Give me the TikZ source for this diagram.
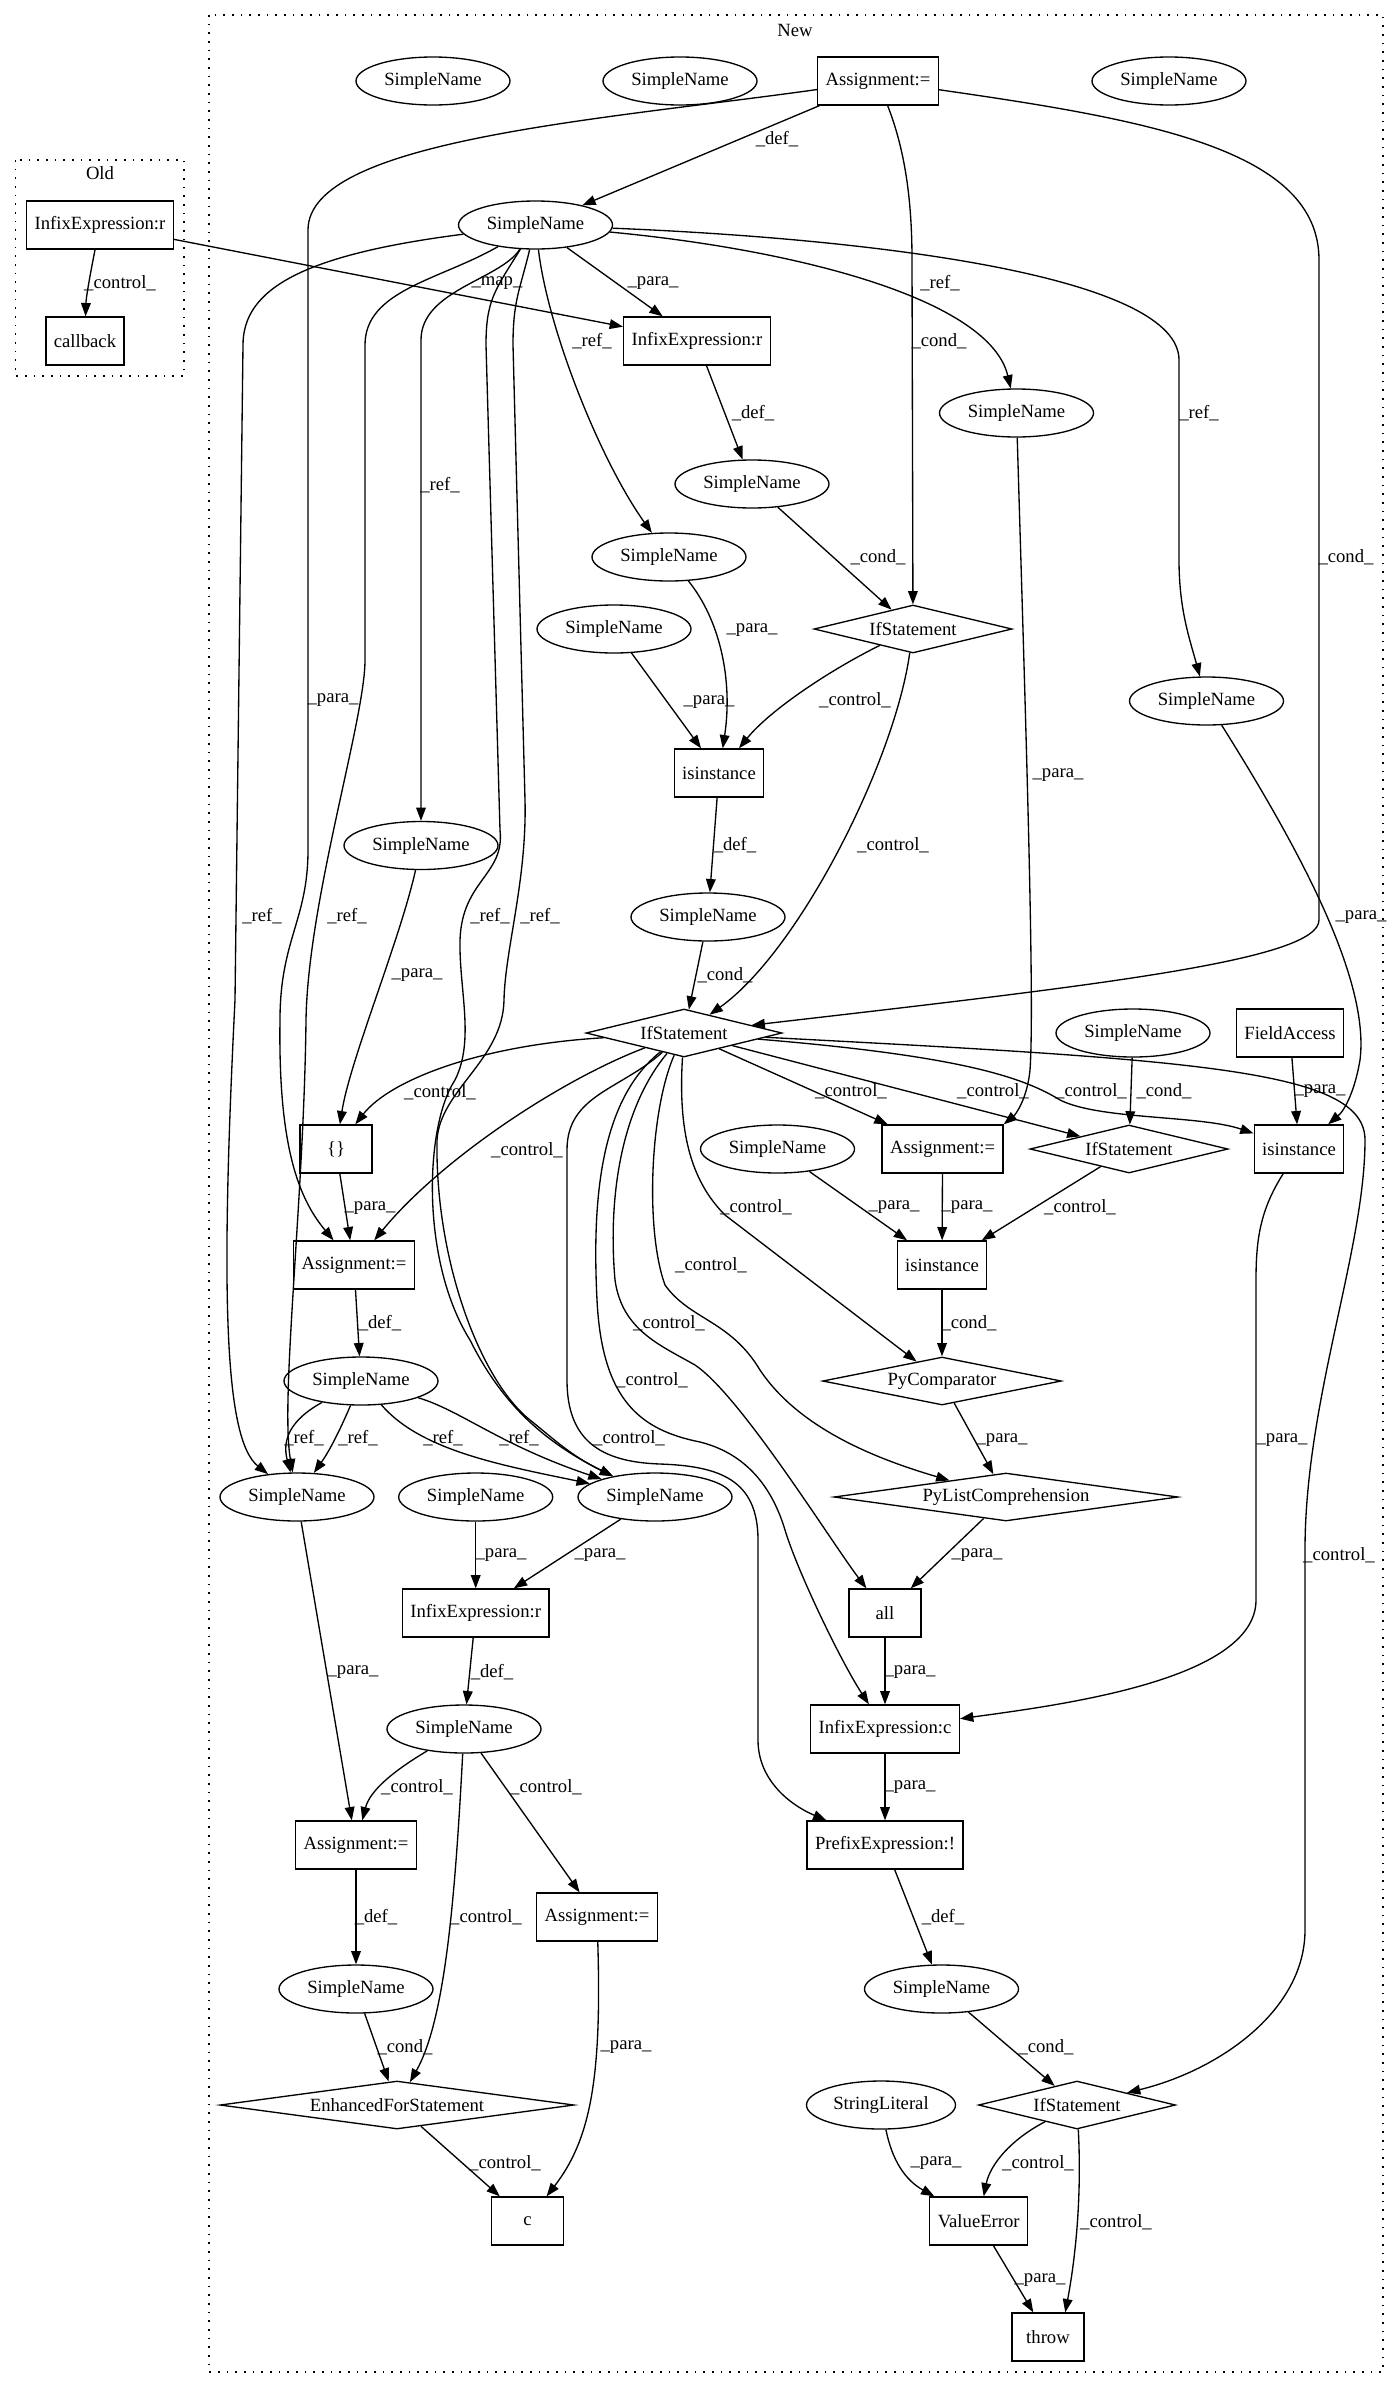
\documentclass[tikz,border=0pt]{standalone}
\usepackage{fontspec}
\setmainfont{Liberation Serif}
\usetikzlibrary{arrows.meta,shapes.geometric}

\begin{document}
\begin{tikzpicture}[
    x=0.75pt,
    y=-0.75pt,
    font=\fontsize{14pt}{17pt}\selectfont,
    >={Triangle[length=10pt,width=7.3pt]},
    sn/.style={
        ellipse,
        draw,
        line width=1pt,
        minimum width=115.5pt,
        minimum height=36pt,
        inner sep=0pt
    },
    op/.style={
        draw,
        line width=1pt,
        minimum width=54pt,
        minimum height=36pt,
        inner xsep=6pt,
        inner ysep=0pt
    },
    cond/.style={
        diamond,
        draw,
        line width=1pt,
        minimum height=36pt,
        inner sep=0pt
    },
    flow/.style={
        ->,
        line width=1pt
    },
    lbl/.style={
        inner sep=0pt
    },
    clus/.style={
        draw,
        line width=1pt,
        dash pattern=on 1.2pt off 5.3pt
    }
]
\useasboundingbox (0,0) rectangle (1396,2388);

% clusters
\draw[clus] (15.6,160) rectangle (184,376);
\node[lbl] (oldtag) at (100,173) {Old};
\draw[clus] (209,15) rectangle (1383,2372);
\node[lbl] (newtag) at (795,30) {New};

% old version
\node[op] (oI) at (100,225) {InfixExpression:r};
\node[op] (oC) at (85,341) {callback};

% new version: top part
\node[sn] (s1) at (433,81) {SimpleName};
\node[sn] (s2) at (680,81) {SimpleName};
\node[op] (aTop) at (878,81) {Assignment:=};
\node[sn] (s3) at (1169,81) {SimpleName};
\node[sn] (sV) at (535.5,225) {SimpleName};
\node[op] (iR) at (697,341) {InfixExpression:r};
\node[sn] (s7) at (1016.5,413) {SimpleName};
\node[sn] (s8) at (752,484) {SimpleName};
\node[sn] (s9) at (669,557) {SimpleName};
\node[sn] (s11) at (614,629) {SimpleName};
\node[cond, minimum width=148.5pt, shape aspect=4.1] (if1) at (913,629) {IfStatement};
\node[sn] (s13) at (1206.5,701) {SimpleName};
\node[op] (isi1) at (719,773) {isinstance};
\node[sn] (s14) at (421,845.5) {SimpleName};
\node[sn] (s15) at (708,917) {SimpleName};

% middle part
\node[cond, minimum width=147pt, shape aspect=4.1] (hub) at (684,1033) {IfStatement};
\node[sn] (s17) at (1133,1033) {SimpleName};
\node[op] (fa) at (1290,1033) {FieldAccess};
\node[op] (br) at (336,1149) {\{\}};
\node[sn] (s23) at (777.5,1149) {SimpleName};
\node[op] (a20) at (942.6,1149) {Assignment:=};
\node[cond, minimum width=148.5pt, shape aspect=4.1] (if21) at (1129,1149) {IfStatement};
\node[op] (isi22) at (1299,1149) {isinstance};
\node[op] (a24) at (354,1265) {Assignment:=};
\node[op] (isi25) at (942,1265) {isinstance};
\node[sn] (s26) at (361,1381) {SimpleName};
\node[cond, minimum width=179pt, shape aspect=5] (pyc) at (942,1381) {PyComparator};
\node[sn] (s28) at (297,1497) {SimpleName};
\node[sn] (s29) at (475.7,1497) {SimpleName};
\node[sn] (s30) at (655,1497) {SimpleName};
\node[cond, minimum width=258pt, shape aspect=7.2] (plc) at (1006,1497) {PyListComprehension};

% bottom part
\node[op] (iR2) at (475.7,1613) {InfixExpression:r};
\node[op] (all) at (885,1613) {all};
\node[sn] (s34) at (464,1729) {SimpleName};
\node[op] (iC) at (885,1729) {InfixExpression:c};
\node[op] (a36) at (356,1845) {Assignment:=};
\node[op] (pre) at (885,1845) {PrefixExpression:!};
\node[op] (a37) at (597,1917) {Assignment:=};
\node[sn] (s39) at (356,1989) {SimpleName};
\node[sn] (s40) at (941.5,1989) {SimpleName};
\node[cond, minimum width=265.5pt, shape aspect=7.4] (efs) at (397,2105) {EnhancedForStatement};
\node[sn, minimum width=111.75pt] (sl) at (881,2105) {StringLiteral};
\node[cond, minimum width=147.75pt, shape aspect=4.1] (if42) at (1077,2105) {IfStatement};
\node[op] (c) at (527.6,2221) {c};
\node[op] (ve) at (978.7,2221) {ValueError};
\node[op] (th) at (1048,2337) {throw};

% old edges
\draw[flow] (oI) .. controls (88,285) and (86,300) .. (oC) node[lbl] (l1) at (120,283) {\_control\_};
\draw[flow] (oI) -- (iR) node[lbl] (l2) at (497,283) {\_map\_};

% edges from the top assignment
\draw[flow] (aTop) -- (sV) node[lbl] (l3) at (777,139) {\_def\_};
\draw[flow] (aTop) .. controls (600,120) and (308,140) .. (308,230) -- (308,850) .. controls (308,920) and (280,940) .. (280,1020) .. controls (278,1150) and (300,1200) .. (a24) node[lbl] (l4) at (333,700) {\_para\_};
\draw[flow] (aTop) .. controls (905,150) and (912,200) .. (912,260) -- (if1) node[lbl] (l5) at (939,341) {\_cond\_};
\draw[flow] (aTop) .. controls (1150,120) and (1319,150) .. (1319,260) -- (1319,920) .. controls (1319,960) and (1100,985) .. (hub) node[lbl] (l6) at (1346,557) {\_cond\_};

% edges from the main variable
\draw[flow] (sV) -- (iR) node[lbl] (l7) at (653,283) {\_para\_};
\draw[flow] (sV) .. controls (800,250) and (990,300) .. (s7) node[lbl] (l8) at (940,283) {\_ref\_};
\draw[flow] (sV) .. controls (900,240) and (1179,280) .. (1179,360) -- (1179,560) .. controls (1179,610) and (1190,640) .. (s13) node[lbl] (l9) at (1199,413) {\_ref\_};
\draw[flow] (sV) .. controls (548,330) and (600,460) .. (s9) node[lbl] (l10) at (592,341) {\_ref\_};
\draw[flow] (sV) .. controls (500,280) and (421,290) .. (421,340) -- (s14) node[lbl] (l11) at (440,485) {\_ref\_};
\draw[flow] (sV) .. controls (300,255) and (243,290) .. (243,345) -- (235,1000) .. controls (220,1300) and (225,1440) .. (s28) node[lbl] (l12) at (262,916) {\_ref\_};
\draw[flow] (sV) .. controls (440,280) and (365,290) .. (365,345) -- (365,660) .. controls (365,720) and (308,900) .. (306,1020) .. controls (304,1200) and (280,1400) .. (s28) node[lbl] (l13) at (347,916) {\_ref\_};
\draw[flow] (sV) .. controls (495,290) and (486,300) .. (486,345) -- (500,830) .. controls (505,875) and (462,880) .. (460,940) .. controls (459,990) and (475,1040) .. (455,1080) .. controls (425,1125) and (420,1260) .. (470,1340) .. controls (500,1400) and (540,1440) .. (s30) node[lbl] (l14) at (490,916) {\_ref\_};
\draw[flow] (sV) .. controls (520,290) and (513,300) .. (513,345) -- (525,800) .. controls (527,880) and (505,950) .. (504,1000) .. controls (503,1060) and (440,1090) .. (437,1140) .. controls (435,1260) and (480,1380) .. (530,1420) .. controls (555,1440) and (570,1455) .. (s30) node[lbl] (l15) at (540,916) {\_ref\_};

% first condition
\draw[flow] (s9) .. controls (720,620) and (733,680) .. (isi1) node[lbl] (l16) at (752,630) {\_para\_};
\draw[flow] (s11) -- (isi1) node[lbl] (l17) at (709,702) {\_para\_};
\draw[flow] (iR) -- (s8) node[lbl] (l18) at (753,413) {\_def\_};
\draw[flow] (s8) -- (if1) node[lbl] (l19) at (878,557) {\_cond\_};
\draw[flow] (if1) .. controls (830,670) and (770,710) .. (isi1) node[lbl] (l20) at (855,700) {\_control\_};
\draw[flow] (if1) .. controls (895,760) and (800,950) .. (hub) node[lbl] (l21) at (893,845) {\_control\_};
\draw[flow] (isi1) -- (s15) node[lbl] (l22) at (735,845) {\_def\_};
\draw[flow] (s15) -- (hub) node[lbl] (l23) at (725,975) {\_cond\_};

% edges from the main if
\draw[flow] (hub) .. controls (480,1045) and (390,1080) .. (br) node[lbl] (l24) at (440,1092) {\_control\_};
\draw[flow] (hub) .. controls (560,1080) and (440,1160) .. (a24) node[lbl] (l25) at (527,1150) {\_control\_};
\draw[flow] (hub) -- (a20) node[lbl] (l33) at (851,1091) {\_control\_};
\draw[flow] (hub) -- (if21) node[lbl] (l34) at (993,1091) {\_control\_};
\draw[flow] (hub) .. controls (950,1055) and (1020,1075) .. (1060,1100) .. controls (1100,1120) and (1200,1115) .. (isi22) node[lbl] (l35) at (1091,1091) {\_control\_};
\draw[flow] (hub) .. controls (1200,1060) and (1365,1070) .. (1365,1140) .. controls (1365,1250) and (1305,1400) .. (1305,1550) -- (1305,1930) .. controls (1305,2010) and (1220,2070) .. (if42) node[lbl] (l36) at (1339,1555) {\_control\_};
\draw[flow] (hub) .. controls (678,1130) and (690,1180) .. (725,1215) -- (pyc) node[lbl] (l37) at (756,1207) {\_control\_};
\draw[flow] (hub) .. controls (650,1110) and (645,1230) .. (665,1285) .. controls (690,1320) and (730,1320) .. (760,1370) .. controls (800,1430) and (880,1460) .. (plc) node[lbl] (l38) at (711,1265) {\_control\_};
\draw[flow] (hub) .. controls (620,1110) and (608,1200) .. (615,1280) .. controls (622,1330) and (660,1345) .. (695,1365) .. controls (740,1395) and (830,1540) .. (all) node[lbl] (l39) at (669,1323) {\_control\_};
\draw[flow] (hub) .. controls (600,1100) and (592,1200) .. (597,1300) .. controls (602,1400) and (640,1430) .. (700,1442) .. controls (740,1452) and (770,1480) .. (785,1530) .. controls (797,1570) and (840,1660) .. (iC) node[lbl] (l40) at (652,1380) {\_control\_};
\draw[flow] (hub) .. controls (620,1090) and (567,1095) .. (567,1150) -- (567,1380) .. controls (567,1440) and (600,1462) .. (660,1464) .. controls (720,1466) and (758,1480) .. (758,1540) -- (758,1740) .. controls (758,1780) and (790,1805) .. (pre) node[lbl] (l41) at (629,1438) {\_control\_};

% left column
\draw[flow] (s14) .. controls (400,940) and (350,1060) .. (br) node[lbl] (l32) at (417,975) {\_para\_};
\draw[flow] (br) -- (a24) node[lbl] (l26) at (370,1208) {\_para\_};
\draw[flow] (a24) -- (s26) node[lbl] (l27) at (380,1323) {\_def\_};
\draw[flow] (s26) .. controls (290,1420) and (282,1440) .. (s28) node[lbl] (l28) at (304,1438) {\_ref\_};
\draw[flow] (s26) .. controls (340,1430) and (330,1450) .. (s28) node[lbl] (l29) at (358,1438) {\_ref\_};
\draw[flow] (s26) .. controls (420,1450) and (500,1465) .. (s30) node[lbl] (l30) at (443,1438) {\_ref\_};
\draw[flow] (s26) .. controls (460,1410) and (500,1445) .. (s30) node[lbl] (l31) at (519,1438) {\_ref\_};

% right column
\draw[flow] (s23) -- (isi25) node[lbl] (l42) at (894,1207) {\_para\_};
\draw[flow] (a20) -- (isi25) node[lbl] (l43) at (967,1207) {\_para\_};
\draw[flow] (if21) -- (isi25) node[lbl] (l44) at (1080,1207) {\_control\_};
\draw[flow] (s7) .. controls (1025,700) and (1035,1000) .. (1030,1070) .. controls (1027,1100) and (1015,1115) .. (a20.north east) node[lbl] (l45) at (1058,775) {\_para\_};
\draw[flow] (s17) -- (if21) node[lbl] (l46) at (1164,1091) {\_cond\_};
\draw[flow] (fa) -- (isi22) node[lbl] (l47) at (1320,1091) {\_para\_};
\draw[flow] (s13) .. controls (1300,850) and (1370,980) .. (1360,1060) .. controls (1355,1090) and (1345,1110) .. (isi22) node[lbl] (l48) at (1361,917) {\_para\_};
\draw[flow] (isi25) -- (pyc) node[lbl] (l49) at (969,1323) {\_cond\_};
\draw[flow] (isi22) .. controls (1260,1210) and (1256,1240) .. (1256,1280) -- (1256,1600) .. controls (1256,1680) and (1060,1705) .. (iC) node[lbl] (l50) at (1282,1440) {\_para\_};
\draw[flow] (pyc) -- (plc) node[lbl] (l51) at (1002,1440) {\_para\_};
\draw[flow] (plc) -- (all) node[lbl] (l52) at (977,1555) {\_para\_};
\draw[flow] (all) -- (iC) node[lbl] (l53) at (910,1672) {\_para\_};
\draw[flow] (iC) -- (pre) node[lbl] (l54) at (910,1787) {\_para\_};
\draw[flow] (pre) -- (s40) node[lbl] (l55) at (943,1917) {\_def\_};
\draw[flow] (s40) -- (if42) node[lbl] (l56) at (1046,2047) {\_cond\_};
\draw[flow] (sl) .. controls (892,2160) and (905,2180) .. (ve) node[lbl] (l57) at (936,2163) {\_para\_};
\draw[flow] (if42) .. controls (1010,2140) and (990,2165) .. (ve) node[lbl] (l58) at (1038,2163) {\_control\_};
\draw[flow] (if42) .. controls (1082,2200) and (1075,2260) .. (th.55) node[lbl] (l59) at (1116,2222) {\_control\_};
\draw[flow] (ve) -- (th) node[lbl] (l60) at (1040,2280) {\_para\_};

% loop part
\draw[flow] (s28) -- (a36) node[lbl] (l67) at (353,1672) {\_para\_};
\draw[flow] (s29) -- (iR2) node[lbl] (l68) at (501,1555) {\_para\_};
\draw[flow] (s30) -- (iR2) node[lbl] (l69) at (600,1555) {\_para\_};
\draw[flow] (iR2) -- (s34) node[lbl] (l70) at (492,1672) {\_def\_};
\draw[flow] (s34) .. controls (395,1770) and (370,1790) .. (a36) node[lbl] (l65) at (417,1787) {\_control\_};
\draw[flow] (s34) -- (a37) node[lbl] (l66) at (546,1787) {\_control\_};
\draw[flow] (s34) .. controls (455,1900) and (445,2020) .. (efs) node[lbl] (l64) at (486,1917) {\_control\_};
\draw[flow] (a36) -- (s39) node[lbl] (l71) at (376,1917) {\_def\_};
\draw[flow] (s39) -- (efs) node[lbl] (l63) at (405,2047) {\_cond\_};
\draw[flow] (efs) -- (c) node[lbl] (l61) at (505,2163) {\_control\_};
\draw[flow] (a37) .. controls (602,2080) and (590,2140) .. (c) node[lbl] (l62) at (626,2047) {\_para\_};

\end{tikzpicture}
\end{document}
